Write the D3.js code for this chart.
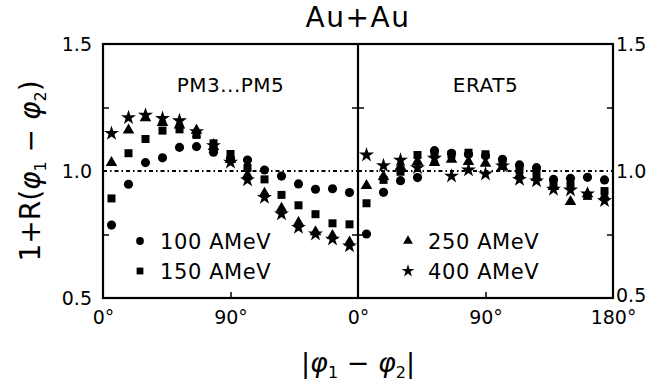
<!DOCTYPE html>
<html>
<head>
<meta charset="utf-8">
<script src="https://cdn.jsdelivr.net/npm/d3@7"></script>
<style>
  html, body { margin: 0; padding: 0; background: #fff; }
  svg { display: block; }
  text { font-family: "DejaVu Sans", "Liberation Sans", sans-serif; fill: #000; }
</style>
</head>
<body>
<svg id="chart" width="657" height="385"></svg>
<script>
// Bin centres of |phi1 - phi2| in degrees (15 bins of 12 degrees)
const angles = [6, 18, 30, 42, 54, 66, 78, 90, 102, 114, 126, 138, 150, 162, 174];

// Left panel: PM3...PM5
const pm_100 = [0.787, 0.948, 1.033, 1.052, 1.093, 1.096, 1.074, 1.050, 1.043, 1.004, 0.980, 0.949, 0.928, 0.930, 0.915];
const pm_150 = [0.892, 1.070, 1.126, 1.159, 1.164, 1.142, 1.109, 1.067, 1.012, 0.967, 0.906, 0.865, 0.830, 0.794, 0.790];
const pm_250 = [1.033, 1.161, 1.209, 1.190, 1.180, 1.160, 1.096, 1.045, 0.984, 0.912, 0.853, 0.797, 0.760, 0.745, 0.720];
const pm_400 = [1.148, 1.210, 1.220, 1.207, 1.198, 1.155, 1.100, 1.035, 0.965, 0.896, 0.831, 0.778, 0.752, 0.732, 0.705];

// Right panel: ERAT5
const erat_100 = [0.752, 0.916, 0.962, 0.974, 1.080, 1.070, 1.066, 1.060, 1.046, 1.024, 1.013, 0.967, 0.971, 0.975, 0.965];
const erat_150 = [0.873, 0.965, 0.997, 1.063, 1.070, 1.065, 1.072, 1.066, 1.033, 1.004, 0.991, 0.949, 0.945, 0.902, 0.921];
const erat_250 = [0.942, 0.978, 1.017, 1.037, 1.033, 1.046, 1.037, 1.030, 1.017, 0.984, 0.975, 0.938, 0.879, 0.910, 0.900];
const erat_400 = [1.063, 1.021, 1.043, 1.013, 1.050, 0.980, 1.004, 0.988, 1.020, 0.967, 0.961, 0.928, 0.925, 0.910, 0.883];

const energies = ["100 AMeV", "150 AMeV", "250 AMeV", "400 AMeV"];
const yTicks = [0.5, 1.0, 1.5];
const yMinor = [0.75, 1.25];
const leftXTicks = [0, 90];
const rightXTicks = [0, 90, 180];

const svg = d3.select("#chart");
const plotTop = 44, plotBottom = 298;
const x0 = 103, mid = 358, x1 = 613;

const y = d3.scaleLinear().domain([0.5, 1.5]).range([plotBottom, plotTop]);
const xL = d3.scaleLinear().domain([0, 180]).range([x0, mid]);
const xR = d3.scaleLinear().domain([0, 180]).range([mid, x1]);

const shapes = [d3.symbolCircle, d3.symbolSquare, d3.symbolTriangle, d3.symbolStar];
const sizes = [66, 64, 58, 70];
const sym = i => d3.symbol().type(shapes[i]).size(sizes[i])();

// Reference line at 1 + R = 1
[xL, xR].forEach(x => {
  svg.append("line")
    .attr("x1", x(0)).attr("x2", x(180))
    .attr("y1", y(1)).attr("y2", y(1))
    .attr("stroke", "#000").attr("stroke-width", 1.8)
    .attr("stroke-dasharray", "4,3,1.5,3");
});

// Data markers
function drawPanel(x, series) {
  series.forEach((vals, si) => {
    svg.append("g").selectAll("path")
      .data(vals)
      .join("path")
      .attr("d", sym(si))
      .attr("transform", (v, i) => `translate(${x(angles[i])},${y(v)})`)
      .attr("fill", "#000");
  });
}
drawPanel(xL, [pm_100, pm_150, pm_250, pm_400]);
drawPanel(xR, [erat_100, erat_150, erat_250, erat_400]);

// Frames
svg.append("rect")
  .attr("x", x0).attr("y", plotTop).attr("width", x1 - x0).attr("height", plotBottom - plotTop)
  .attr("fill", "none").attr("stroke", "#000").attr("stroke-width", 2.2);
svg.append("line")
  .attr("x1", mid).attr("x2", mid).attr("y1", plotTop).attr("y2", plotBottom)
  .attr("stroke", "#000").attr("stroke-width", 2.2);

// Inner minor ticks on the vertical edges
function innerY(xpos, dir) {
  const ax = dir > 0 ? d3.axisRight(y) : d3.axisLeft(y);
  const g = svg.append("g").attr("transform", `translate(${xpos},0)`)
    .call(ax.tickValues(yMinor).tickSize(6).tickFormat(""));
  g.select(".domain").remove();
  g.selectAll("line").attr("stroke-width", 1.5);
}
innerY(x0, 1); innerY(mid, -1); innerY(mid, 1); innerY(x1, -1);

// Inner tick at 90 degrees on the bottom edges
[xL, xR].forEach(x => {
  const g = svg.append("g").attr("transform", `translate(0,${plotBottom})`)
    .call(d3.axisTop(x).tickValues([90]).tickSize(6).tickFormat(""));
  g.select(".domain").remove();
  g.selectAll("line").attr("stroke-width", 1.5);
});

// Y tick labels on both sides
const fmt = d3.format(".1f");
const gyl = svg.append("g").attr("transform", `translate(${x0},0)`)
  .call(d3.axisLeft(y).tickValues(yTicks).tickSize(0).tickPadding(11).tickFormat(fmt));
const gyr = svg.append("g").attr("transform", `translate(${x1},0)`)
  .call(d3.axisRight(y).tickValues(yTicks).tickSize(0).tickPadding(3).tickFormat(fmt));
[gyl, gyr].forEach(g => {
  g.select(".domain").remove();
  g.selectAll("text").attr("font-size", 19).attr("font-family", "DejaVu Sans");
});
gyr.selectAll("text").filter(d => d === 0.5).attr("dy", "0.2em");

// X tick labels
function xLabels(x, vals) {
  const g = svg.append("g").attr("transform", `translate(0,${plotBottom})`)
    .call(d3.axisBottom(x).tickValues(vals).tickSize(0).tickPadding(13).tickFormat(d => d + "°"));
  g.select(".domain").remove();
  g.selectAll("text").attr("font-size", 19).attr("font-family", "DejaVu Sans");
}
xLabels(xL, leftXTicks);
xLabels(xR, rightXTicks);

// Title
svg.append("text").attr("x", mid).attr("y", 27).attr("text-anchor", "middle")
  .attr("font-size", 28).attr("letter-spacing", 1.5).text("Au+Au");

// Panel labels
svg.append("text").attr("x", xL(90)).attr("y", 92).attr("text-anchor", "middle")
  .attr("font-size", 20).attr("letter-spacing", 0.5).text("PM3...PM5");
svg.append("text").attr("x", xR(90)).attr("y", 92).attr("text-anchor", "middle")
  .attr("font-size", 20).attr("letter-spacing", 0.5).text("ERAT5");

// Legends
const legendRows = [
  { si: 0, x: 140, y: 241 }, { si: 1, x: 140, y: 271 },
  { si: 2, x: 408, y: 241 }, { si: 3, x: 408, y: 271 }
];
legendRows.forEach(r => {
  svg.append("path").attr("d", sym(r.si))
    .attr("transform", `translate(${r.x},${r.y}) scale(0.85)`).attr("fill", "#000");
  svg.append("text").attr("x", r.x + 20).attr("y", r.y).attr("dy", "0.36em")
    .attr("font-size", 21).attr("letter-spacing", 0.6).text(energies[r.si]);
});

// Axis titles
const yt = svg.append("text").attr("transform", `translate(40,${y(1)}) rotate(-90)`)
  .attr("text-anchor", "middle").attr("font-size", 28);
yt.append("tspan").text("1+R(");
yt.append("tspan").attr("font-style", "italic").text("φ");
yt.append("tspan").attr("font-size", 16).attr("dy", 6).text("1");
yt.append("tspan").attr("dy", -6).text(" − ");
yt.append("tspan").attr("font-style", "italic").text("φ");
yt.append("tspan").attr("font-size", 16).attr("dy", 6).text("2");
yt.append("tspan").attr("dy", -6).text(")");

const xt = svg.append("text").attr("x", mid).attr("y", 372)
  .attr("text-anchor", "middle").attr("font-size", 27);
xt.append("tspan").text("|");
xt.append("tspan").attr("font-style", "italic").text("φ");
xt.append("tspan").attr("font-size", 16).attr("dy", 6).text("1");
xt.append("tspan").attr("dy", -6).text(" − ");
xt.append("tspan").attr("font-style", "italic").text("φ");
xt.append("tspan").attr("font-size", 16).attr("dy", 6).text("2");
xt.append("tspan").attr("dy", -6).text("|");
</script>
</body>
</html>
